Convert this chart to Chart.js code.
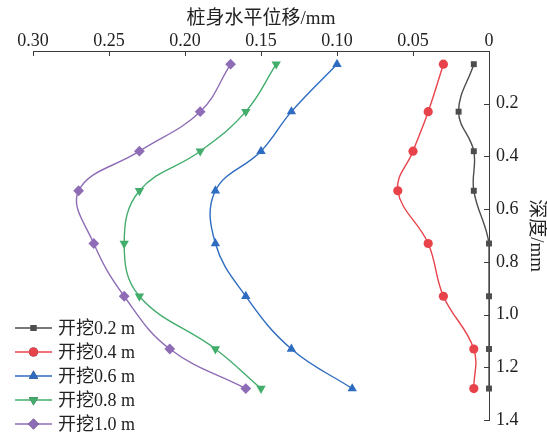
<!DOCTYPE html>
<html>
<head>
<meta charset="utf-8">
<script src="https://cdn.jsdelivr.net/npm/chart.js@4/dist/chart.umd.min.js"></script>
<style>
  html, body { margin: 0; padding: 0; background: #fff; }
  #wrap { width: 547px; height: 438px; }
</style>
</head>
<body>
<div id="wrap"><canvas id="c" width="547" height="438"></canvas></div>
<script>
// Depth of each measuring point along the pile
const depths = [0.05, 0.23, 0.38, 0.53, 0.73, 0.93, 1.13, 1.28];

// Horizontal displacement of the pile at each excavation stage
const disp02 = [0.01, 0.02, 0.01, 0.01, 0, 0, 0, 0];
const disp04 = [0.03, 0.04, 0.05, 0.06, 0.04, 0.03, 0.01, 0.01];
const disp06 = [0.10, 0.13, 0.15, 0.18, 0.18, 0.16, 0.13, 0.09];
const disp08 = [0.14, 0.16, 0.19, 0.23, 0.24, 0.23, 0.18, 0.15];
const disp10 = [0.17, 0.19, 0.23, 0.27, 0.26, 0.24, 0.21, 0.16];

const seriesNames = ['开挖0.2 m', '开挖0.4 m', '开挖0.6 m', '开挖0.8 m', '开挖1.0 m'];

// Tick labels
const xTickValues = [0.30, 0.25, 0.20, 0.15, 0.10, 0.05, 0];
const xTickLabels = ['0.30', '0.25', '0.20', '0.15', '0.10', '0.05', '0'];
const yTickValues = [0.2, 0.4, 0.6, 0.8, 1.0, 1.2, 1.4];
const yTickLabels = ['0.2', '0.4', '0.6', '0.8', '1.0', '1.2', '1.4'];

const FONT = "'Liberation Serif', 'Times New Roman', 'Noto Sans CJK SC', serif";
const AXIS_COLOR = '#3a3a3a';

const styles = [
  { color: '#4d4d4d', point: 'rect', radius: 4.2, rotation: 0 },
  { color: '#e8434b', point: 'circle', radius: 4.6, rotation: 0 },
  { color: '#2d6cc0', point: 'triangle', radius: 5.4, rotation: 0 },
  { color: '#43ad6c', point: 'triangle', radius: 5.4, rotation: 180 },
  { color: '#8f6db6', point: 'rectRot', radius: 5.4, rotation: 0 }
];

const allSeries = [disp02, disp04, disp06, disp08, disp10];

const datasets = allSeries.map((vals, i) => ({
  label: seriesNames[i],
  data: vals.map((v, k) => ({ x: v, y: depths[k] })),
  showLine: true,
  tension: 0.4,
  borderColor: styles[i].color,
  backgroundColor: styles[i].color,
  borderWidth: 1.4,
  pointStyle: styles[i].point,
  pointRadius: styles[i].radius,
  pointHoverRadius: styles[i].radius,
  pointRotation: styles[i].rotation,
  pointBorderWidth: 0,
  clip: false
}));

// Inward tick marks on the top and right axes
const innerTicks = {
  id: 'innerTicks',
  afterDraw(chart) {
    const ctx = chart.ctx;
    const xs = chart.scales.x, ys = chart.scales.y;
    ctx.save();
    ctx.strokeStyle = AXIS_COLOR;
    ctx.lineWidth = 1;
    xTickValues.forEach(v => {
      const px = Math.round(xs.getPixelForValue(v)) + 0.5;
      ctx.beginPath();
      ctx.moveTo(px, ys.top);
      ctx.lineTo(px, ys.top + 5);
      ctx.stroke();
    });
    yTickValues.forEach(v => {
      const py = Math.round(ys.getPixelForValue(v)) + 0.5;
      ctx.beginPath();
      ctx.moveTo(xs.right, py);
      ctx.lineTo(xs.right - 5, py);
      ctx.stroke();
    });
    ctx.restore();
  }
};

// Legend in the lower-left corner
const cornerLegend = {
  id: 'cornerLegend',
  afterDraw(chart) {
    const ctx = chart.ctx;
    ctx.save();
    const x0 = 15, x1 = 52, tx = 58, y0 = 328, dy = 24;
    chart.data.datasets.forEach((ds, i) => {
      const y = y0 + i * dy;
      ctx.strokeStyle = ds.borderColor;
      ctx.lineWidth = 1.6;
      ctx.beginPath();
      ctx.moveTo(x0, y);
      ctx.lineTo(x1, y);
      ctx.stroke();
      Chart.helpers.drawPoint(ctx, {
        pointStyle: ds.pointStyle,
        rotation: ds.pointRotation,
        radius: ds.pointRadius,
        borderWidth: 0
      }, (x0 + x1) / 2, y);
      ctx.fillStyle = ds.borderColor;
      ctx.fill();
      ctx.fillStyle = '#222';
      ctx.font = '18px ' + FONT;
      ctx.textBaseline = 'middle';
      ctx.textAlign = 'left';
      ctx.fillText(ds.label, tx, y + 1);
    });
    ctx.restore();
  }
};

new Chart(document.getElementById('c'), {
  type: 'scatter',
  data: { datasets },
  options: {
    responsive: false,
    animation: false,
    events: [],
    layout: { padding: { left: 33, right: 0, top: 0, bottom: 9 } },
    plugins: { legend: { display: false }, tooltip: { enabled: false } },
    scales: {
      x: {
        type: 'linear',
        position: 'top',
        reverse: true,
        min: 0,
        max: 0.30,
        afterBuildTicks(scale) { scale.ticks = xTickValues.map(v => ({ value: v })); },
        afterFit(scale) { scale.height = 51; },
        grid: { display: false, drawTicks: false, tickLength: 0 },
        border: { display: true, color: AXIS_COLOR, width: 1 },
        ticks: {
          color: '#222',
          font: { family: FONT, size: 18 },
          padding: -1,
          maxRotation: 0,
          callback(v) {
            const k = xTickValues.findIndex(t => Math.abs(t - v) < 1e-9);
            return k >= 0 ? xTickLabels[k] : '';
          }
        },
        title: {
          display: true,
          text: '桩身水平位移/mm',
          color: '#222',
          font: { family: FONT, size: 19 },
          padding: { top: 8, bottom: 0 }
        }
      },
      y: {
        type: 'linear',
        position: 'right',
        reverse: true,
        min: 0,
        max: 1.4,
        afterBuildTicks(scale) { scale.ticks = yTickValues.map(v => ({ value: v })); },
        afterFit(scale) { scale.width = 58; },
        grid: { display: false, drawTicks: false, tickLength: 0 },
        border: { display: true, color: AXIS_COLOR, width: 1 },
        ticks: {
          color: '#222',
          font: { family: FONT, size: 18 },
          padding: 7,
          callback(v) {
            const k = yTickValues.findIndex(t => Math.abs(t - v) < 1e-9);
            return k >= 0 ? yTickLabels[k] : '';
          }
        },
        title: {
          display: true,
          text: '深度/mm',
          color: '#222',
          font: { family: FONT, size: 19 },
          padding: { top: 0, bottom: 4 }
        }
      }
    }
  },
  plugins: [innerTicks, cornerLegend]
});
</script>
</body>
</html>
